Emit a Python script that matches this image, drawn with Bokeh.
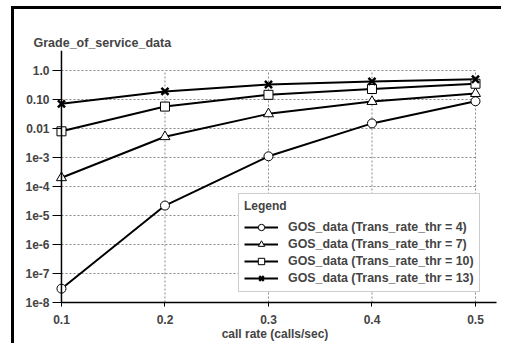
from bokeh.plotting import figure
from bokeh.models import FixedTicker, Legend, LegendItem, Range1d, Span, CustomJSTickFormatter
from bokeh.embed import file_html
from bokeh.resources import INLINE

# ---- data ----
call_rate = [0.1, 0.2, 0.3, 0.4, 0.5]
gos_thr4 = [3e-8, 2.2e-5, 1.1e-3, 0.015, 0.087]
gos_thr7 = [2e-4, 5.2e-3, 0.032, 0.085, 0.16]
gos_thr10 = [0.008, 0.057, 0.145, 0.23, 0.35]
gos_thr13 = [0.071, 0.19, 0.33, 0.42, 0.5]
series_labels = [
    "GOS_data (Trans_rate_thr = 4)",
    "GOS_data (Trans_rate_thr = 7)",
    "GOS_data (Trans_rate_thr = 10)",
    "GOS_data (Trans_rate_thr = 13)",
]
x_ticks = [0.1, 0.2, 0.3, 0.4, 0.5]
y_ticks = [1e-8, 1e-7, 1e-6, 1e-5, 1e-4, 1e-3, 1e-2, 1e-1, 1.0]
y_tick_labels = ["1e-8", "1e-7", "1e-6", "1e-5", "1e-4", "1e-3", "0.01", "0.10", "1.0"]

FONT = "Liberation Sans"

p = figure(
    frame_width=443, frame_height=252,
    x_range=Range1d(0.0923, 0.5203), y_range=Range1d(1e-8, 4.9),
    y_axis_type="log",
    output_backend="svg", toolbar_location=None,
    min_border_left=39, min_border_right=5, min_border_top=41, min_border_bottom=0,
    title="Grade_of_service_data",
)
p.styles = {"border-left": "3px solid black", "border-top": "3px solid black",
            "margin-left": "11px", "margin-top": "6px"}
p.outline_line_color = None
p.xgrid.visible = False
p.ygrid.visible = False
p.background_fill_color = "white"
p.border_fill_color = "white"

p.title.align = "left"
p.title.offset = -20
p.title.standoff = 2
p.title.text_font = FONT
p.title.text_font_size = "12.5px"
p.title.text_font_style = "bold"

# y axis (ticks at frame edge, axis line drawn at x = 0.1)
ya = p.yaxis[0]
ya.ticker = FixedTicker(ticks=y_ticks)
ya.formatter = CustomJSTickFormatter(
    args=dict(tvals=y_ticks, tlabels=y_tick_labels),
    code="""
    for (let i = 0; i < tvals.length; i++) {
        if (Math.abs(Math.log10(tick) - Math.log10(tvals[i])) < 1e-6) return tlabels[i];
    }
    return '';
    """,
)
ya.axis_line_color = None
ya.major_tick_out = 1
ya.major_tick_in = 8
ya.minor_tick_out = 0
ya.minor_tick_in = 0
ya.major_label_standoff = 3
ya.major_tick_line_width = 1
ya.major_label_text_font = FONT
ya.major_label_text_font_size = "12px"
ya.major_label_text_font_style = "bold"
p.add_layout(Span(location=x_ticks[0], dimension="height", line_color="black", line_width=1.5))

# x axis
xa = p.xaxis[0]
xa.bounds = (x_ticks[0], 0.5203)
xa.ticker = FixedTicker(ticks=x_ticks)
xa.major_tick_out = 4
xa.major_tick_in = 0
xa.minor_tick_out = 0
xa.minor_tick_in = 0
xa.major_label_standoff = 8
xa.axis_line_width = 1.5
xa.major_label_text_font = FONT
xa.major_label_text_font_size = "12px"
xa.major_label_text_font_style = "bold"
xa.axis_label = "call rate (calls/sec)"
xa.axis_label_standoff = 0
xa.axis_label_text_font = FONT
xa.axis_label_text_font_size = "12px"
xa.axis_label_text_font_style = "bold"

# dotted grid, limited to the tick span
ny = len(y_ticks)
nx = len(x_ticks)
p.segment(x0=[x_ticks[0]] * ny, y0=y_ticks, x1=[x_ticks[-1]] * ny, y1=y_ticks,
          line_color="#888888", line_width=1, line_dash="2 2")
p.segment(x0=x_ticks, y0=[y_ticks[0]] * nx, x1=x_ticks, y1=[y_ticks[-1]] * nx,
          line_color="#888888", line_width=1, line_dash="2 2")

series = [gos_thr4, gos_thr7, gos_thr10, gos_thr13]
markers = ["circle", "triangle", "square", "x"]
sizes = [9, 10, 9, 10]
items = []
line_rs = [p.line(call_rate, ys, line_color="black", line_width=2) for ys in series]
for ys, mk, sz, lr, lbl in zip(series, markers, sizes, line_rs, series_labels):
    if mk == "x":
        sr = p.scatter(call_rate, ys, marker=mk, size=sz, line_color="black", line_width=2.5)
    else:
        sr = p.scatter(call_rate, ys, marker=mk, size=sz, fill_color="white",
                       line_color="black", line_width=1)
    items.append(LegendItem(label=lbl, renderers=[lr, sr]))

legend = Legend(
    items=items, location=(185, 10), title="Legend",
    border_line_color="#999999", border_line_width=1,
    background_fill_color="white", background_fill_alpha=1.0,
    padding=5, spacing=0, margin=0,
    glyph_width=34, glyph_height=16, label_height=17, label_standoff=10,
    label_text_font=FONT, label_text_font_size="12.4px", label_text_font_style="bold",
    title_text_font=FONT, title_text_font_size="12px", title_text_font_style="bold",
    title_standoff=5,
)
p.add_layout(legend)

open("out.html", "w").write(file_html(p, INLINE))
